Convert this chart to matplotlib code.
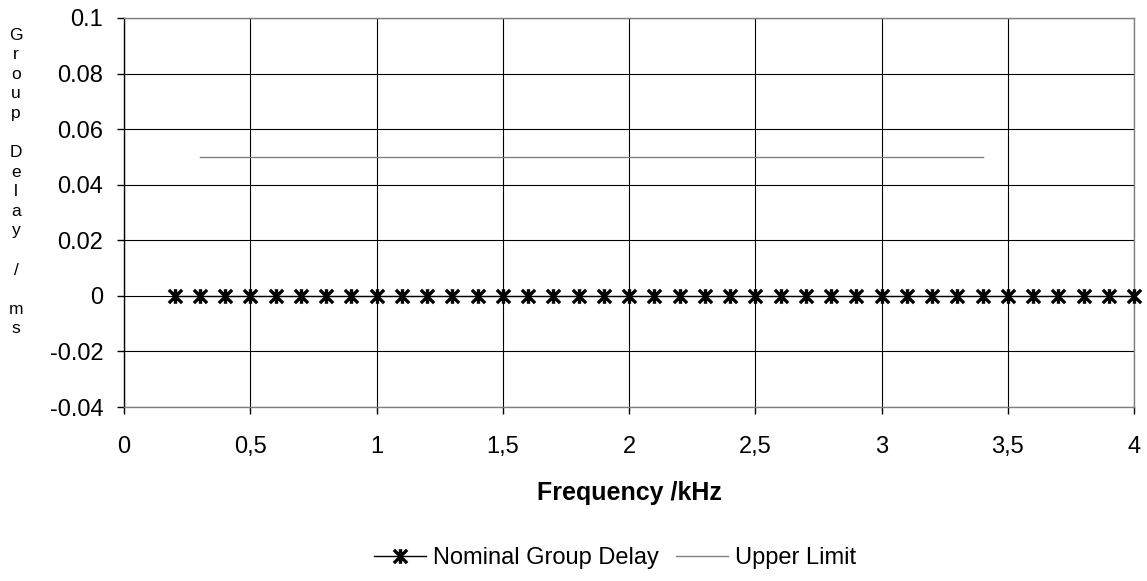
import matplotlib
matplotlib.use("Agg")
import matplotlib.pyplot as plt
from matplotlib.path import Path
from matplotlib.ticker import FuncFormatter, MultipleLocator

plt.rcParams['font.family'] = ['Liberation Sans', 'DejaVu Sans']

# Nominal group delay, kHz / ms
freq = [0.2, 0.3, 0.4, 0.5, 0.6, 0.7, 0.8, 0.9, 1.0,
        1.1, 1.2, 1.3, 1.4, 1.5, 1.6, 1.7, 1.8, 1.9, 2.0,
        2.1, 2.2, 2.3, 2.4, 2.5, 2.6, 2.7, 2.8, 2.9, 3.0,
        3.1, 3.2, 3.3, 3.4, 3.5, 3.6, 3.7, 3.8, 3.9, 4.0]
delay = [0, 0, 0, 0, 0, 0, 0, 0, 0,
         0, 0, 0, 0, 0, 0, 0, 0, 0, 0,
         0, 0, 0, 0, 0, 0, 0, 0, 0, 0,
         0, 0, 0, 0, 0, 0, 0, 0, 0, 0]

# Upper limit
limit_freq = [0.3, 3.4]
limit_val = [0.05, 0.05]

yticks = [-0.04, -0.02, 0, 0.02, 0.04, 0.06, 0.08, 0.1]
ytick_labels = ['-0.04', '-0.02', '0', '0.02', '0.04', '0.06', '0.08', '0.1']

# asterisk marker: x with a vertical bar through it
star = Path([(-1, -1), (1, 1), (-1, 1), (1, -1), (0, -1.1), (0, 1.1)],
            [Path.MOVETO, Path.LINETO, Path.MOVETO, Path.LINETO, Path.MOVETO, Path.LINETO])

fig = plt.figure(figsize=(11.47, 5.81), dpi=100)
ax = fig.add_axes([124 / 1147, 1 - 407 / 581, (1134 - 124) / 1147, (407 - 18) / 581])

ax.plot(freq, delay, color='black', lw=1, marker=star, markersize=10.5,
        markeredgewidth=2.4, label='Nominal Group Delay', clip_on=False, zorder=5)
ax.plot(limit_freq, limit_val, color='#808080', lw=1, label='Upper Limit', zorder=4)

ax.set_xlim(0, 4)
ax.set_ylim(-0.04, 0.1)
ax.xaxis.set_major_locator(MultipleLocator(0.5))
ax.xaxis.set_major_formatter(FuncFormatter(lambda v, p: ('%g' % v).replace('.', ',')))
ax.set_yticks(yticks)
ax.set_yticklabels(ytick_labels)
ax.tick_params(axis='both', labelsize=17, length=5, width=1, color='black', pad=10)
ax.tick_params(axis='x', pad=16)
ax.grid(True, color='black', lw=0.8)
for s in ax.spines.values():
    s.set_color('#808080')
    s.set_linewidth(1)
ax.spines['left'].set_color('black')

fig.text(629 / 1147, 1 - 500 / 581, 'Frequency /kHz', fontsize=18, fontweight='bold',
         ha='center', va='baseline')

ylab = 'Group Delay / ms'
fig.text(16 / 1147, 1 - 182 / 581, '\n'.join(ylab), fontsize=12.5,
         ha='center', va='center', linespacing=1.38)

fig.legend(loc='center', bbox_to_anchor=(615 / 1147, 1 - 558 / 581), ncol=2,
           frameon=False, fontsize=17, handlelength=2.2, columnspacing=0.7,
           handletextpad=0.3)

fig.savefig('out.png', dpi=100)
